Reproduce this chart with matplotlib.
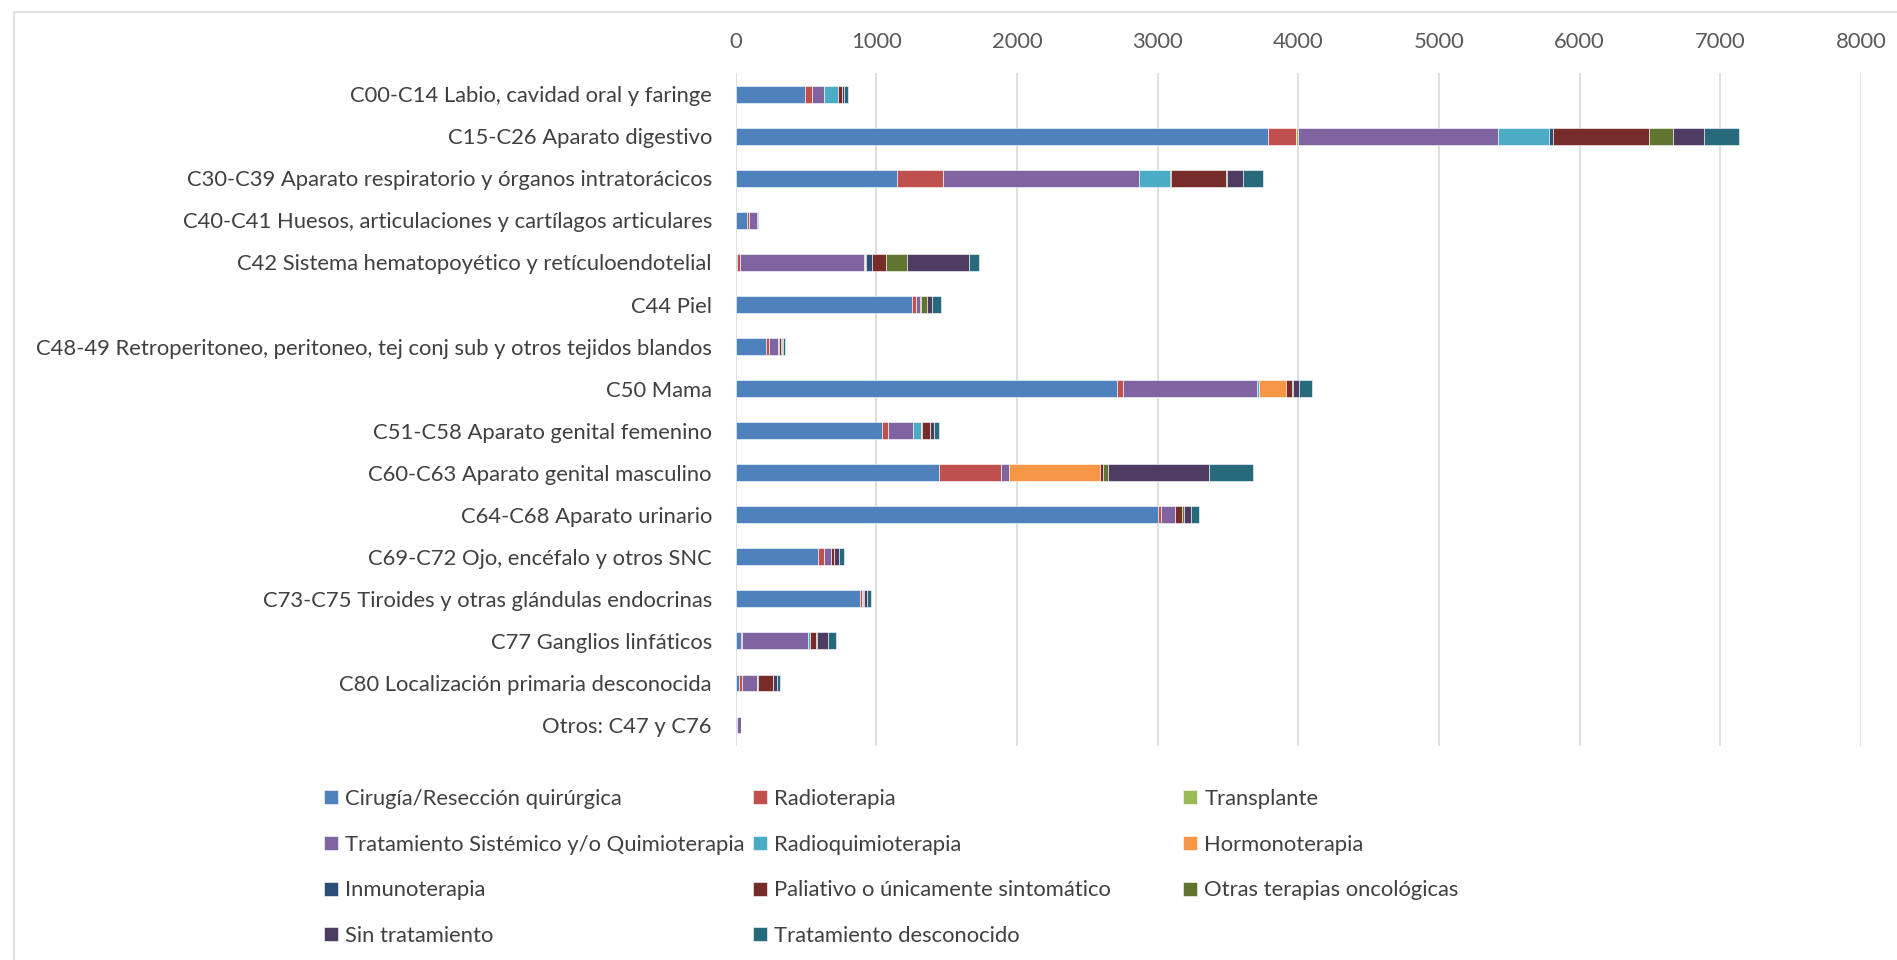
"""Stacked horizontal bars: tratamientos por localización tumoral."""

import matplotlib

matplotlib.use("Agg")
import matplotlib.pyplot as plt
from matplotlib.patches import Rectangle
import numpy as np

plt.rcParams["font.family"] = ["Lato", "DejaVu Sans"]

categories = [
    "C00-C14 Labio, cavidad oral y faringe",
    "C15-C26 Aparato digestivo",
    "C30-C39 Aparato respiratorio y órganos intratorácicos",
    "C40-C41 Huesos, articulaciones y cartílagos articulares",
    "C42 Sistema hematopoyético y retículoendotelial",
    "C44 Piel",
    "C48-49 Retroperitoneo, peritoneo, tej conj sub y otros tejidos blandos",
    "C50 Mama",
    "C51-C58 Aparato genital femenino",
    "C60-C63 Aparato genital masculino",
    "C64-C68 Aparato urinario",
    "C69-C72 Ojo, encéfalo y otros SNC",
    "C73-C75 Tiroides y otras glándulas endocrinas",
    "C77 Ganglios linfáticos",
    "C80 Localización primaria desconocida",
    "Otros: C47 y C76",
]

series_names = [
    "Cirugía/Resección quirúrgica",
    "Radioterapia",
    "Transplante",
    "Tratamiento Sistémico y/o Quimioterapia",
    "Radioquimioterapia",
    "Hormonoterapia",
    "Inmunoterapia",
    "Paliativo o únicamente sintomático",
    "Otras terapias oncológicas",
    "Sin tratamiento",
    "Tratamiento desconocido",
]

colors = [
    "#4F81BD", "#C0504D", "#9BBB59", "#8064A2", "#4BACC6", "#F79646",
    "#2C4D75", "#772C2A", "#5F7530", "#4D3B62", "#276A7C",
]

# one list per series, values in category order
cirugia = [494, 3785, 1150, 81, 14, 1256, 215, 2713, 1043, 1447, 3002, 589, 888, 36, 23, 10]
radioterapia = [50, 200, 327, 13, 17, 28, 21, 43, 41, 442, 25, 41, 8, 10, 20, 0]
transplante = [0, 10, 0, 0, 0, 0, 0, 0, 0, 0, 0, 0, 0, 0, 0, 0]
sistemico = [85, 1427, 1388, 58, 881, 28, 68, 953, 178, 56, 94, 46, 10, 472, 107, 26]
radioquimio = [102, 363, 224, 0, 7, 0, 7, 14, 56, 0, 5, 5, 0, 13, 13, 0]
hormono = [0, 0, 0, 0, 7, 0, 0, 190, 10, 647, 0, 0, 0, 0, 0, 0]
inmuno = [0, 24, 10, 0, 43, 0, 0, 0, 0, 0, 0, 0, 0, 0, 0, 0]
paliativo = [26, 685, 386, 0, 100, 8, 12, 43, 56, 20, 46, 20, 5, 38, 107, 0]
otras = [0, 168, 8, 0, 149, 38, 4, 7, 0, 33, 15, 0, 0, 8, 0, 0]
sin_trat = [16, 223, 114, 3, 441, 41, 10, 40, 28, 721, 48, 38, 22, 84, 25, 0]
desconocido = [29, 250, 140, 6, 69, 63, 15, 97, 33, 312, 61, 30, 28, 51, 20, 0]

series = [cirugia, radioterapia, transplante, sistemico, radioquimio, hormono,
          inmuno, paliativo, otras, sin_trat, desconocido]

W, H = 1897, 960
FS = 15.8
fig = plt.figure(figsize=(W / 100, H / 100), dpi=100)
ax = fig.add_axes([735.5 / W, 1 - 746 / H, (1861 - 735.5) / W, (746 - 73.3) / H])

# outer chart border
fig.patches.append(Rectangle((14 / W, -0.1), 1.2, 1.1 - 12 / H, transform=fig.transFigure,
                             fill=False, edgecolor="#D9D9D9", linewidth=1.2))

y = np.arange(len(categories))
left = np.zeros(len(categories))
handles = []
for name, vals, col in zip(series_names, series, colors):
    vals = np.array(vals, dtype=float)
    b = ax.barh(y, vals, left=left, height=0.4, color=col, edgecolor="white",
                linewidth=0.4, label=name)
    handles.append(b)
    left += vals

ax.set_ylim(len(categories) - 0.5, -0.5)
ax.set_xlim(0, 8000)
ax.set_xticks(range(0, 8001, 1000))
ax.xaxis.tick_top()
ax.tick_params(axis="x", length=0, pad=15, labelsize=FS, labelcolor="#595959")
ax.set_yticks(y)
ax.set_yticklabels(categories)
ax.tick_params(axis="y", length=0, pad=17, labelsize=FS, labelcolor="#404040")
ax.grid(axis="x", color="#D9D9D9", linewidth=1.2)
ax.set_axisbelow(True)
for s in ax.spines.values():
    s.set_visible(False)

# legend: three fixed-width columns like the original
col_x = [324, 753, 1183]
groups = [[0, 3, 6, 9], [1, 4, 7, 10], [2, 5, 8]]
for cx, idx in zip(col_x, groups):
    leg = fig.legend([handles[i] for i in idx], [series_names[i] for i in idx],
                     loc="upper left", bbox_to_anchor=(cx / W, 1 - 789 / H),
                     frameon=False, fontsize=FS, handlelength=0.62, handleheight=0.62,
                     handletextpad=0.35, labelspacing=1.17, borderaxespad=0, borderpad=0)
    for t in leg.get_texts():
        t.set_color("#404040")

fig.savefig("out.png", dpi=100)
